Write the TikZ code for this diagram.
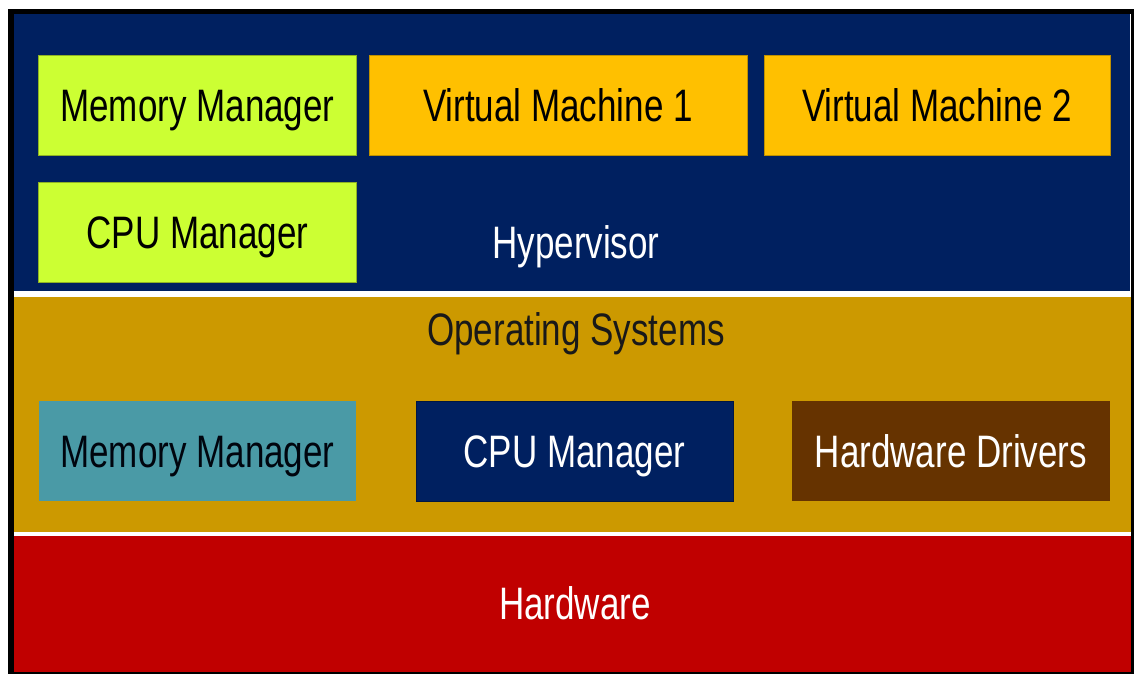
\documentclass[tikz,border=0pt]{standalone}
\usepackage{graphicx}
\usepackage{fontspec}
\setmainfont{Liberation Sans}
\definecolor{navyc}{HTML}{002060}
\definecolor{goldc}{HTML}{CC9900}
\definecolor{redc}{HTML}{C00000}
\definecolor{limec}{HTML}{CCFF33}
\definecolor{orangec}{HTML}{FFC000}
\definecolor{tealc}{HTML}{4A9AA6}
\definecolor{brownc}{HTML}{663300}
\newcommand{\tallt}[1]{\scalebox{1}[1.3]{#1}}
\tikzset{
  box/.style={inner sep=0pt, outer sep=0pt, minimum width=#1, minimum height=100pt,
    font=\fontsize{35}{42}\selectfont, text height=32.5pt, text depth=0pt},
  box/.default=318pt,
  lbl/.style={inner sep=0pt, outer sep=0pt, text=white,
    font=\fontsize{35}{42}\selectfont, text height=32.5pt, text depth=0pt},
}
\begin{document}
\begin{tikzpicture}[x=1pt,y=-1pt]
\useasboundingbox (0,0) rectangle (1135,674);
\fill[white] (0,0) rectangle (1135,674);
% outer frame
\fill[black] (8,9) rectangle (1134,674);
% bands
\fill[navyc] (14,14) rectangle (1131,291);
\fill[white] (14,291) rectangle (1131,297);
\fill[goldc] (14,297) rectangle (1131,532);
\fill[white] (14,532) rectangle (1131,536);
\fill[redc] (14,536) rectangle (1131,672);
\draw[white, line width=1pt] (1130.5,14) -- (1130.5,291);

% hypervisor layer
\node[box, fill=limec, draw=limec!70!black, line width=0.6pt] (hmm) at (197.5,105) {\tallt{Memory Manager}};
\node[box, fill=limec, draw=limec!70!black, line width=0.6pt] (hcpu) at (197.5,232.5) {\tallt{CPU Manager}};
\node[box=378pt, fill=orangec, draw=orangec!75!black, line width=0.6pt] (vm1) at (558,105) {\tallt{Virtual Machine 1}};
\node[box=346pt, fill=orangec, draw=orangec!75!black, line width=0.6pt] (vm2) at (937,105) {\tallt{Virtual Machine 2}};
\node[lbl] (hyp) at (576,242) {\tallt{Hypervisor}};

% operating systems layer
\node[lbl, text=black!90] (os) at (576,329) {\tallt{Operating Systems}};
\node[box=317pt, fill=tealc, text={black!85!navyc}] (omm) at (197.5,451) {\tallt{Memory Manager}};
\node[box=317pt, fill=navyc, draw=navyc!70!black, line width=0.6pt, text=white] (ocpu) at (574.5,451) {\tallt{CPU Manager}};
\node[box=318pt, fill=brownc, text=white] (drv) at (951,451) {\tallt{Hardware Drivers}};

% hardware layer
\node[lbl] (hw) at (575,603) {\tallt{Hardware}};
\end{tikzpicture}
\end{document}
